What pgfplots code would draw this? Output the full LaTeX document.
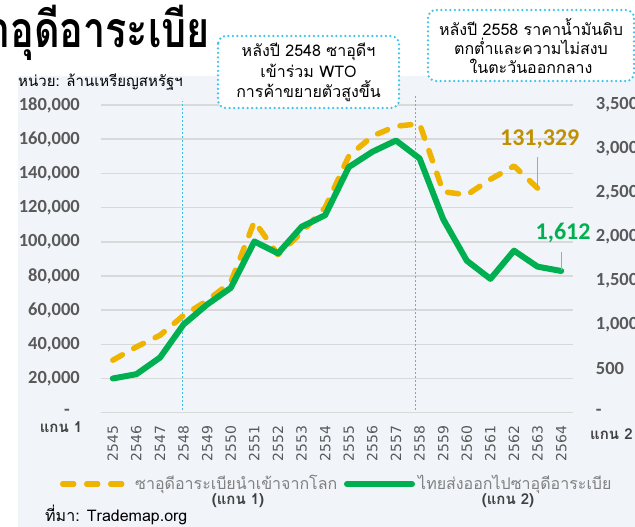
\documentclass[border=0pt]{standalone}
\usepackage{pgfplots}
\pgfplotsset{compat=1.18}
\usepackage{fontspec}
\setmainfont{Loma}[Script=Thai]
\newfontfamily\thai[Script=Thai]{Loma}
\newfontfamily\carlito{Carlito}
\newfontfamily\dejavu{DejaVu Sans}
\definecolor{goldc}{HTML}{EEB400}
\definecolor{labgold}{HTML}{BF9000}
\definecolor{greenc}{HTML}{00B050}
\definecolor{tickgray}{HTML}{595959}
\definecolor{gridc}{HTML}{D9D9D9}
\definecolor{cyanc}{HTML}{3CC3EA}
\definecolor{bgc}{HTML}{F1F4F9}
\definecolor{leggray}{HTML}{808080}
\definecolor{darkc}{HTML}{404040}
\begin{document}
\begin{tikzpicture}[x=1pt,y=1pt]
\useasboundingbox (0,0) rectangle (635,527);
\clip (0,0) rectangle (635,527);
\fill[bgc] (18,0) rectangle (640,451);
% title
\node[anchor=base east, inner sep=0pt, xscale=0.79, font=\thai\bfseries\fontsize{50}{50}\selectfont] at (210,479) {ซาอุดีอาระเบีย};
\node[anchor=west, inner sep=0pt, font=\thai\fontsize{15}{15}\selectfont] at (18,445) {หน่วย: ล้านเหรียญสหรัฐฯ};
% axis 1
\begin{axis}[at={(101pt,114.3pt)}, anchor=south west, scale only axis,
  width=472pt, height=307.7pt, xmin=-0.5, xmax=19.5, ymin=0, ymax=180000,
  clip=false, axis line style={draw=none}, major tick length=0pt,
  scaled y ticks=false,
  ymajorgrids, grid style={line width=1.5pt, gridc},
  ytick={0,20000,...,180000},
  yticklabels={{-\hspace*{10pt}},{20,000},{40,000},{60,000},{80,000},{100,000},{120,000},{140,000},{160,000},{180,000}},
  yticklabel style={font=\carlito\bfseries\fontsize{18.5}{18.5}\selectfont, text=tickgray, inner sep=0pt, anchor=east},
  yticklabel shift=21pt,
  xtick={0,...,19},
  xticklabels={2545,2546,2547,2548,2549,2550,2551,2552,2553,2554,2555,2556,2557,2558,2559,2560,2561,2562,2563,2564},
  xticklabel style={font=\dejavu\fontsize{14}{14}\selectfont, text=tickgray, inner sep=0pt, rotate=90, anchor=east, xshift=2pt},
  xticklabel shift=15pt,
]
\addplot[cyanc, line width=1pt, dash pattern=on 2pt off 2pt] coordinates {(2.97,1500) (2.97,182500)};
\addplot[cyanc, line width=1pt, dash pattern=on 2pt off 2pt] coordinates {(12.82,1500) (12.82,185000)};
\addplot[goldc, line width=5.5pt, line cap=round, line join=round, dash pattern=on 11pt off 13pt] coordinates {
(0,30700) (1,38500) (2,45300) (3,56900) (4,65600) (5,76300) (6,111900) (7,92400) (8,105500) (9,120000)
(10,150100) (11,161800) (12,167600) (13,169000) (14,129300) (15,127400) (16,136500) (17,144300) (18,131329)};
\draw[gray!70, line width=1.2pt] (axis cs:18,131329) -- (axis cs:18,149500);
\node[font=\carlito\bfseries\fontsize{24}{24}\selectfont, text=labgold, inner sep=0pt] at (axis cs:18.09,159800) {131,329};
\end{axis}
% axis 2
\begin{axis}[at={(101pt,114.3pt)}, anchor=south west, scale only axis,
  width=472pt, height=307.7pt, xmin=-0.5, xmax=19.5, ymin=0, ymax=3500,
  clip=false, axis line style={draw=none}, major tick length=0pt,
  scaled y ticks=false,
  axis y line*=right, axis x line=none,
  ytick={0,500,...,3500},
  yticklabels={{-},{500},{1,000},{1,500},{2,000},{2,500},{3,000},{3,500}},
  yticklabel style={font=\carlito\bfseries\fontsize{18.5}{18.5}\selectfont, text=tickgray, inner sep=0pt, anchor=west},
  yticklabel shift=22.7pt,
]
\addplot[greenc, line width=6pt, line join=round, line cap=round] coordinates {
(0,389) (1,438) (2,627) (3,1004) (4,1231) (5,1420) (6,1948) (7,1812) (8,2115) (9,2247)
(10,2794) (11,2968) (12,3096) (13,2892) (14,2201) (15,1729) (16,1522) (17,1843) (18,1661) (19,1612)};
\draw[gray!70, line width=1.2pt] (axis cs:19,1623) -- (axis cs:19,1831);
\node[font=\carlito\bfseries\fontsize{24}{24}\selectfont, text=greenc, inner sep=0pt] at (axis cs:19.08,2044) {1,612};
\end{axis}
% legend
\draw[goldc, line width=5.5pt, line cap=round, dash pattern=on 11pt off 13pt] (62.75,43) -- (121.75,43);
\node[anchor=west, inner sep=0pt, font=\thai\fontsize{16}{16}\selectfont, text=leggray] at (135,43) {ซาอุดีอาระเบียนำเข้าจากโลก};
\draw[greenc, line width=6pt, line cap=round] (347,43) -- (412,43);
\node[anchor=west, inner sep=0pt, font=\thai\fontsize{16}{16}\selectfont, text=leggray] at (418,43) {ไทยส่งออกไปซาอุดีอาระเบีย};
% axis captions
\node[font=\thai\bfseries\fontsize{15}{15}\selectfont, text=darkc, inner sep=0pt] at (61,100) {แกน 1};
\node[font=\thai\bfseries\fontsize{15}{15}\selectfont, text=darkc, inner sep=0pt, anchor=west] at (590,93) {แกน 2};
\node[font=\thai\bfseries\fontsize{15}{15}\selectfont, text=darkc, inner sep=0pt] at (238,26) {(แกน 1)};
\node[font=\thai\bfseries\fontsize{15}{15}\selectfont, text=darkc, inner sep=0pt] at (508,26) {(แกน 2)};
\node[font=\thai\fontsize{16}{16}\selectfont, anchor=west, inner sep=0pt] at (45,12) {ที่มา: Trademap.org};
% boxes
\draw[cyanc, line width=2.5pt, line cap=round, dash pattern=on 0pt off 4.5pt, rounded corners=8pt, fill=white] (218,491) rectangle (399,419);
\node[align=center, font=\thai\fontsize{16}{20.5}\selectfont, inner sep=0pt] at (308.5,454.5) {หลังปี 2548 ซาอุดีฯ\\เข้าร่วม WTO\\การค้าขยายตัวสูงขึ้น};
\draw[cyanc, line width=2.5pt, line cap=round, dash pattern=on 0pt off 4.5pt, rounded corners=8pt, fill=white] (428,517) rectangle (634,446);
\node[align=center, font=\thai\fontsize{16}{19}\selectfont, inner sep=0pt] at (531,481) {หลังปี 2558 ราคาน้ำมันดิบ\\ตกต่ำและความไม่สงบ\\ในตะวันออกกลาง};
\end{tikzpicture}
\end{document}
